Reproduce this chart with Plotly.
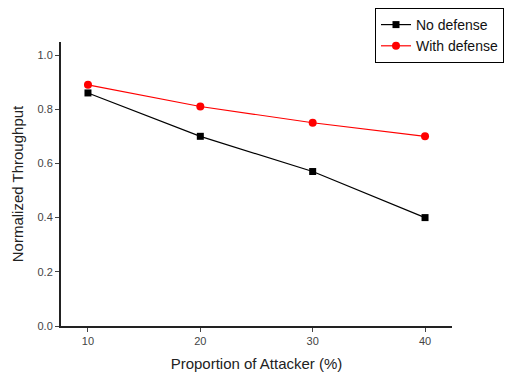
import plotly.graph_objects as go

x_vals = [10, 20, 30, 40]
no_defense = [0.86, 0.70, 0.57, 0.40]
with_defense = [0.89, 0.81, 0.75, 0.70]
y_ticks = [0.0, 0.2, 0.4, 0.6, 0.8, 1.0]
y_tick_labels = ["0.0", "0.2", "0.4", "0.6", "0.8", "1.0"]

fig = go.Figure()
fig.add_trace(go.Scatter(x=x_vals, y=no_defense, mode="lines+markers", name="No defense",
                         line=dict(color="black", width=1.2),
                         marker=dict(symbol="square", size=7, color="black")))
fig.add_trace(go.Scatter(x=x_vals, y=with_defense, mode="lines+markers", name="With defense",
                         line=dict(color="red", width=1.2),
                         marker=dict(symbol="circle", size=8, color="red")))

fig.update_layout(
    width=521, height=374,
    margin=dict(l=61, r=69, t=42, b=48, autoexpand=False),
    plot_bgcolor="white", paper_bgcolor="white",
    font=dict(family="Liberation Sans, Arial, sans-serif", color="#222"),
    showlegend=True,
    legend=dict(xref="container", yref="container", x=375/521, y=1 - 8/374,
                xanchor="left", yanchor="top",
                bordercolor="black", borderwidth=1, bgcolor="white",
                font=dict(size=14, color="#111"), tracegroupgap=0,
                itemwidth=30),
    xaxis=dict(range=[7.6, 42.4], tickvals=x_vals, ticks="outside", ticklen=4,
               showline=True, linecolor="#222", linewidth=2, showgrid=False, zeroline=False,
               tickfont=dict(size=11, color="#444"), automargin=False,
               title=dict(text="Proportion of Attacker (%)", font=dict(size=15, color="#222"), standoff=12)),
    yaxis=dict(range=[0, 1.048], tickvals=y_ticks, ticktext=y_tick_labels, ticks="outside", ticklen=4,
               showline=True, linecolor="#222", linewidth=2, showgrid=False, zeroline=False,
               tickfont=dict(size=11, color="#444"), automargin=False,
               title=dict(text="Normalized Throughput", font=dict(size=15, color="#222"), standoff=10)),
)

fig.write_html("out.html")
